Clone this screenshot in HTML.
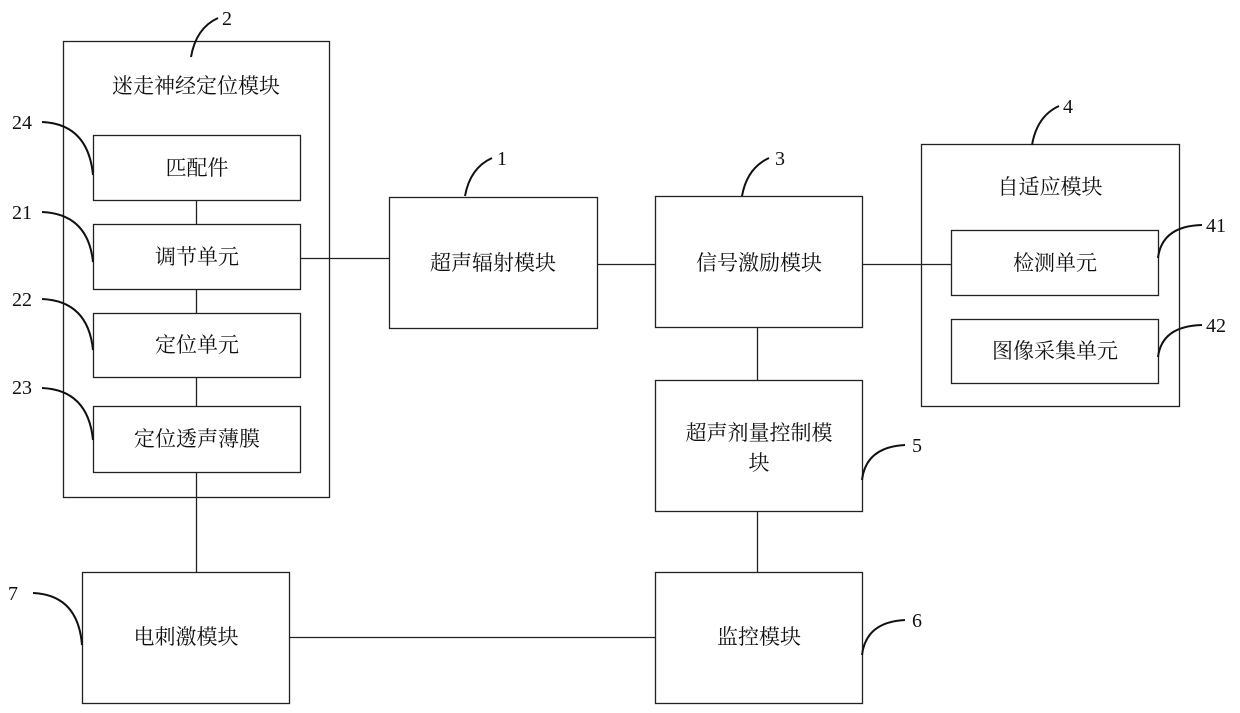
<!DOCTYPE html>
<html><head><meta charset="utf-8"><style>
html,body{margin:0;padding:0;background:#fff;}
svg{display:block}
text{font-family:"Liberation Serif","Noto Serif CJK SC","Noto Sans CJK SC",serif;fill:#111;}
.c{font-size:21px;text-anchor:middle;}
.n{font-size:20px;}
</style></head><body>
<svg width="1240" height="713" viewBox="0 0 1240 713" xmlns="http://www.w3.org/2000/svg">
<g fill="none" stroke="#222" stroke-width="1.3">
<rect x="63.5" y="41.5" width="266" height="456"/>
<rect x="93.5" y="135.5" width="207" height="65"/>
<rect x="93.5" y="224.5" width="207" height="65"/>
<rect x="93.5" y="313.5" width="207" height="64"/>
<rect x="93.5" y="406.5" width="207" height="66"/>
<rect x="389.5" y="197.5" width="208" height="131"/>
<rect x="655.5" y="196.5" width="207" height="131"/>
<rect x="921.5" y="144.5" width="258" height="262"/>
<rect x="951.5" y="230.5" width="207" height="65"/>
<rect x="951.5" y="319.5" width="207" height="64"/>
<rect x="655.5" y="380.5" width="207" height="131"/>
<rect x="82.5" y="572.5" width="207" height="131"/>
<rect x="655.5" y="572.5" width="207" height="131"/>
<line x1="196.5" y1="200" x2="196.5" y2="224"/>
<line x1="196.5" y1="289" x2="196.5" y2="313"/>
<line x1="196.5" y1="377" x2="196.5" y2="406"/>
<line x1="196.5" y1="472" x2="196.5" y2="572"/>
<line x1="300" y1="258.5" x2="389" y2="258.5"/>
<line x1="597" y1="264.5" x2="655" y2="264.5"/>
<line x1="862" y1="264.5" x2="951" y2="264.5"/>
<line x1="757.5" y1="327" x2="757.5" y2="380"/>
<line x1="757.5" y1="511" x2="757.5" y2="572"/>
<line x1="289" y1="637.5" x2="655" y2="637.5"/>
</g>
<g fill="none" stroke="#111" stroke-width="2">
<path d="M191 57 Q196 28 218 18"/>
<path d="M42 122 Q88 124 93 175"/>
<path d="M42 212 Q88 214 93 262"/>
<path d="M42 299 Q88 301 93 350"/>
<path d="M42 388 Q88 390 93 440"/>
<path d="M465 196 Q470 168 492 158"/>
<path d="M742 196 Q747 168 769 158"/>
<path d="M1032 145 Q1037 116 1059 106"/>
<path d="M1158 258 Q1162 226 1202 225"/>
<path d="M1158 357 Q1162 326 1202 325"/>
<path d="M862 480 Q866 447 905 445"/>
<path d="M862 655 Q866 622 905 620"/>
<path d="M33 593 Q78 595 82 645"/>
</g>
<text class="n" x="222" y="25">2</text>
<text class="n" x="12" y="129">24</text>
<text class="n" x="12" y="219">21</text>
<text class="n" x="12" y="306">22</text>
<text class="n" x="12" y="394">23</text>
<text class="n" x="497" y="165">1</text>
<text class="n" x="775" y="165">3</text>
<text class="n" x="1063" y="113">4</text>
<text class="n" x="1206" y="232">41</text>
<text class="n" x="1206" y="332">42</text>
<text class="n" x="912" y="452">5</text>
<text class="n" x="912" y="627">6</text>
<text class="n" x="8" y="600">7</text>
<text class="c" x="196" y="93">迷走神经定位模块</text>
<text class="c" x="197" y="175">匹配件</text>
<text class="c" x="197" y="264">调节单元</text>
<text class="c" x="197" y="352">定位单元</text>
<text class="c" x="197" y="446">定位透声薄膜</text>
<text class="c" x="493" y="270">超声辐射模块</text>
<text class="c" x="759" y="270">信号激励模块</text>
<text class="c" x="1050" y="194">自适应模块</text>
<text class="c" x="1055" y="270">检测单元</text>
<text class="c" x="1055" y="358">图像采集单元</text>
<text class="c" x="759" y="440">超声剂量控制模</text>
<text class="c" x="759" y="470">块</text>
<text class="c" x="186" y="644">电刺激模块</text>
<text class="c" x="759" y="644">监控模块</text>
</svg>
</body></html>
